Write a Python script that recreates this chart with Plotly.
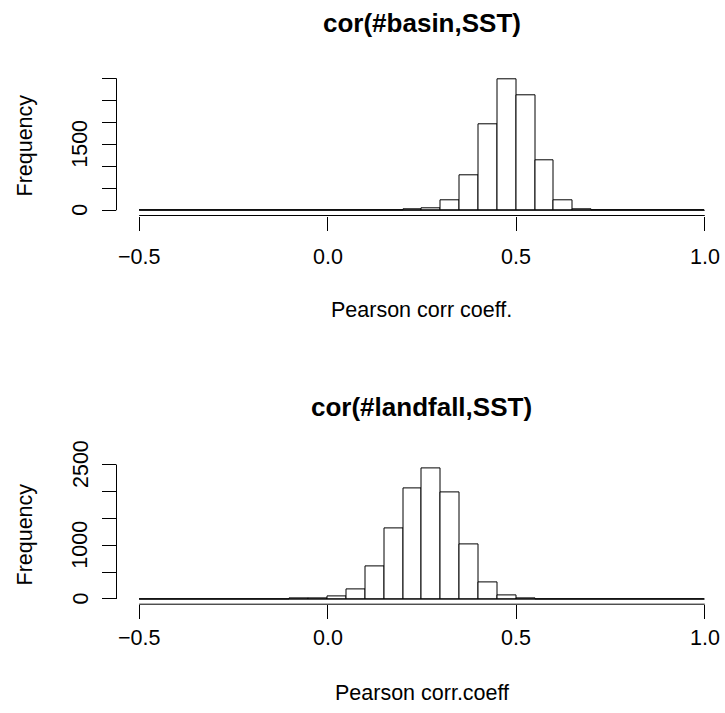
import plotly.graph_objects as go

# Bin left edges (width 0.05) shared by both histograms
bin_starts = [-0.50, -0.45, -0.40, -0.35, -0.30, -0.25, -0.20, -0.15, -0.10, -0.05,
              0.00, 0.05, 0.10, 0.15, 0.20, 0.25, 0.30, 0.35, 0.40, 0.45,
              0.50, 0.55, 0.60, 0.65, 0.70, 0.75, 0.80, 0.85, 0.90, 0.95]
bin_width = 0.05

# cor(#basin,SST)
basin_counts = [0, 0, 0, 0, 0, 0, 0, 0, 0, 0,
                0, 0, 0, 4, 15, 40, 220, 796, 1948, 2971,
                2615, 1145, 235, 15, 4, 0, 0, 0, 0, 0]

# cor(#landfall,SST)
landfall_counts = [0, 0, 0, 0, 0, 0, 0, 0, 3, 5,
                   43, 186, 601, 1308, 2058, 2424, 1978, 1011, 316, 62,
                   8, 0, 0, 0, 0, 0, 0, 0, 0, 0]

x_ticks = [-0.5, 0.0, 0.5, 1.0]
x_ticktext = ["\u22120.5", "0.0", "0.5", "1.0"]

basin_yticks = [0, 500, 1000, 1500, 2000, 2500, 3000]
basin_yticktext = ["0", "", "", "1500", "", "", ""]
landfall_yticks = [0, 500, 1000, 1500, 2000, 2500]
landfall_yticktext = ["0", "", "1000", "", "", "2500"]

titles = ["cor(#basin,SST)", "cor(#landfall,SST)"]
xlabels = ["Pearson corr coeff.", "Pearson corr.coeff"]
ylabel = "Frequency"

W, H = 725, 713
FONT = "Liberation Sans, Arial, Helvetica, sans-serif"
FS = 21.5

def px_y(screen_y):
    return 1 - screen_y / H

def px_x(screen_x):
    return screen_x / W

centers = [b + bin_width / 2 for b in bin_starts]

fig = go.Figure()
for counts, xa, ya in [(basin_counts, "x", "y"), (landfall_counts, "x2", "y2")]:
    fig.add_trace(go.Bar(x=centers, y=counts, width=bin_width,
                         marker=dict(color="white", line=dict(color="black", width=1)),
                         xaxis=xa, yaxis=ya, showlegend=False, hoverinfo="x+y"))

# plot region geometry (screen pixels)
left_px = 116.5
ppu = 377.1
x0 = bin_starts[0] - 0.04 * (bin_starts[-1] + bin_width - bin_starts[0])
x1 = x0 + (W - left_px) / ppu

def yr(counts):
    m = max(counts)
    return [-0.04 * m, 1.04 * m]

common_x = dict(range=[x0, x1], domain=[px_x(left_px), 1], tickvals=x_ticks,
                ticks="outside", ticklen=14, tickwidth=1, tickcolor="black",
                showticklabels=False, automargin=False,
                showgrid=False, zeroline=False, showline=False)
common_y = dict(ticks="outside", ticklen=14, tickwidth=1, tickcolor="black",
                showticklabels=False, automargin=False,
                showgrid=False, zeroline=False, showline=False)

fig.update_layout(
    template="none",
    width=W, height=H,
    margin=dict(l=0, r=0, t=0, b=0, autoexpand=False),
    paper_bgcolor="white", plot_bgcolor="white",
    bargap=0, showlegend=False,
    xaxis=dict(**common_x, anchor="y"),
    yaxis=dict(**common_y, range=yr(basin_counts), domain=[px_y(215.5), px_y(74.3)],
               tickvals=basin_yticks, anchor="x"),
    xaxis2=dict(**common_x, anchor="y2"),
    yaxis2=dict(**common_y, range=yr(landfall_counts), domain=[px_y(604.2), px_y(463.4)],
                tickvals=landfall_yticks, anchor="x2"),
)

panels = [
    dict(xa="x", ya="y", yticks=basin_yticks, yticktext=basin_yticktext,
         title=titles[0], xlabel=xlabels[0], title_y=23, xlab_y=309.6, tick_y=257.5, ylab_y=145),
    dict(xa="x2", ya="y2", yticks=landfall_yticks, yticktext=landfall_yticktext,
         title=titles[1], xlabel=xlabels[1], title_y=407, xlab_y=693, tick_y=637.5, ylab_y=534),
]

cx = px_x(left_px + (x_ticks[-1] + 0.06 - x0) * ppu / 2)
txt = dict(family=FONT, size=FS, color="black")

for p in panels:
    xa, ya = p["xa"], p["ya"]
    # R-style axis lines spanning only the tick range
    fig.add_shape(type="line", xref=xa, yref=ya + " domain", x0=x_ticks[0], x1=x_ticks[-1],
                  y0=0, y1=0, line=dict(color="black", width=1))
    fig.add_shape(type="line", xref=xa + " domain", yref=ya, x0=0, x1=0,
                  y0=p["yticks"][0], y1=p["yticks"][-1], line=dict(color="black", width=1))
    # histogram baseline (zero-count bins)
    fig.add_shape(type="line", xref=xa, yref=ya, x0=bin_starts[0], x1=bin_starts[-1] + bin_width,
                  y0=0, y1=0, line=dict(color="black", width=1))
    # x tick labels
    for v, t in zip(x_ticks, x_ticktext):
        fig.add_annotation(text=t, x=v, y=px_y(p["tick_y"]), xref=xa, yref="paper",
                           showarrow=False, xanchor="center", yanchor="middle", font=txt)
    # y tick labels (rotated, R las=0)
    for v, t in zip(p["yticks"], p["yticktext"]):
        if t:
            fig.add_annotation(text=t, x=px_x(80.5), y=v, xref="paper", yref=ya,
                               showarrow=False, xanchor="center", yanchor="middle",
                               textangle=-90, font=txt)
    fig.add_annotation(text="<b>" + p["title"] + "</b>", x=cx, y=px_y(p["title_y"]),
                       xref="paper", yref="paper", showarrow=False,
                       xanchor="center", yanchor="middle",
                       font=dict(family=FONT, size=26, color="black"))
    fig.add_annotation(text=p["xlabel"], x=cx, y=px_y(p["xlab_y"]), xref="paper", yref="paper",
                       showarrow=False, xanchor="center", yanchor="middle", font=txt)
    fig.add_annotation(text=ylabel, x=px_x(24.5), y=px_y(p["ylab_y"]), xref="paper", yref="paper",
                       showarrow=False, xanchor="center", yanchor="middle", textangle=-90, font=txt)

fig.write_html("out.html",
               config={"displayModeBar": False},
               post_script="document.body.style.margin='0px';document.body.style.overflow='hidden';")
